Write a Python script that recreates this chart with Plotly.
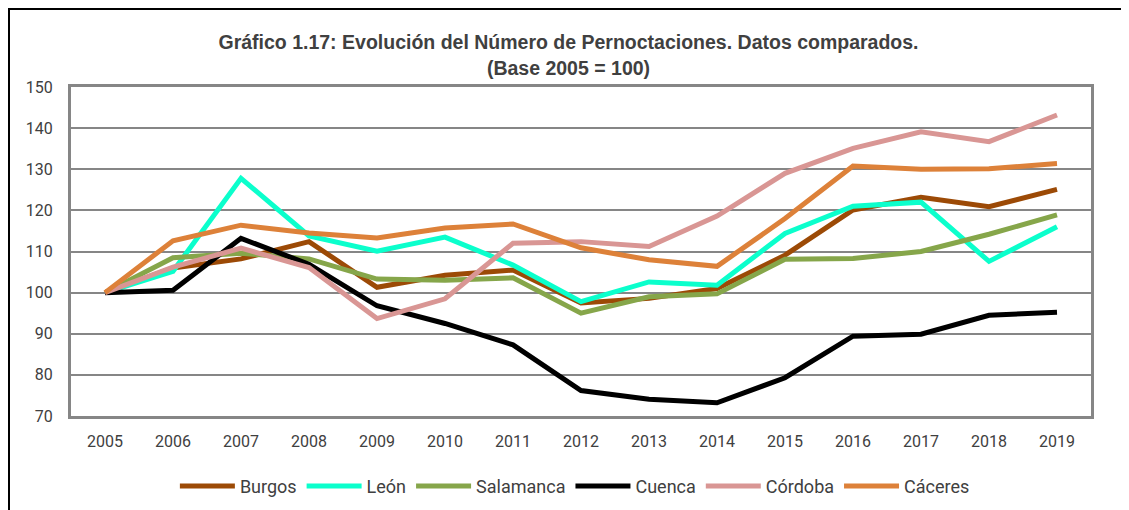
import plotly.graph_objects as go

years = [str(y) for y in range(2005, 2020)]

burgos    = [100, 106.0, 108.2, 112.4, 101.3, 104.2, 105.5, 97.5, 98.6, 101.0, 109.1, 120.1, 123.2, 120.9, 125.1]
leon      = [100, 105.2, 127.8, 113.8, 110.1, 113.5, 106.7, 97.8, 102.6, 101.8, 114.4, 121.0, 122.0, 107.6, 116.0]
salamanca = [100, 108.5, 109.6, 108.2, 103.3, 103.0, 103.6, 95.0, 99.0, 99.7, 108.1, 108.3, 110.0, 114.2, 118.9]
cuenca    = [100, 100.6, 113.2, 106.9, 96.8, 92.5, 87.3, 76.2, 74.1, 73.2, 79.3, 89.4, 89.9, 94.5, 95.2]
cordoba   = [100, 106.2, 110.8, 106.1, 93.7, 98.5, 112.0, 112.4, 111.2, 118.6, 129.0, 135.1, 139.1, 136.7, 143.2]
caceres   = [100, 112.6, 116.4, 114.5, 113.3, 115.7, 116.7, 110.9, 108.0, 106.4, 118.0, 130.8, 130.0, 130.1, 131.4]

series = [
    ("Burgos", burgos, "#9C4A06"),
    ("León", leon, "#0BFFCC"),
    ("Salamanca", salamanca, "#86A64A"),
    ("Cuenca", cuenca, "#000000"),
    ("Córdoba", cordoba, "#D99694"),
    ("Cáceres", caceres, "#DD8139"),
]

y_ticks = [70, 80, 90, 100, 110, 120, 130, 140, 150]

fig = go.Figure()
for name, vals, col in series:
    fig.add_trace(go.Scatter(x=years, y=vals, mode="lines", name=name,
                             line=dict(color=col, width=5)))

font_txt = "Roboto, Liberation Sans, Arial, sans-serif"

W, H = 1121, 502
fig.update_layout(
    width=W, height=H,
    margin=dict(l=63, r=38, t=79, b=94, autoexpand=False),
    paper_bgcolor="white", plot_bgcolor="white",
    title=dict(
        text="<b>Gráfico 1.17: Evolución del Número de Pernoctaciones. Datos comparados.<br>(Base 2005 = 100)</b>",
        x=0.5, xanchor="center", y=0.918, yanchor="top",
        font=dict(family="Liberation Sans, Arial, sans-serif", size=19.5, color="#404040"),
    ),
    xaxis=dict(
        type="category", range=[-0.5, 14.5],
        showgrid=False, showline=True, linecolor="#868686", linewidth=3, mirror=True,
        ticks="outside", ticklen=9, tickcolor="rgba(0,0,0,0)",
        tickfont=dict(family=font_txt, size=16, color="#404040"),
        fixedrange=True,
    ),
    yaxis=dict(
        range=[70, 150], tickvals=y_ticks,
        showgrid=True, gridcolor="#868686", gridwidth=2,
        showline=True, linecolor="#868686", linewidth=3, mirror=True,
        ticks="outside", ticklen=12, tickcolor="rgba(0,0,0,0)",
        tickfont=dict(family=font_txt, size=16, color="#404040"),
        zeroline=False, fixedrange=True,
    ),
    legend=dict(
        orientation="h", x=0.494, xanchor="center",
        yref="container", y=0.084, yanchor="top",
        font=dict(family=font_txt, size=18, color="#404040"),
        itemwidth=55, tracegroupgap=0,
    ),
    showlegend=True,
    shapes=[dict(type="rect", xref="paper", yref="paper",
                 x0=(1 - 63) / 1020, x1=1.2, y0=-0.6, y1=(408 - 1) / 329,
                 line=dict(color="black", width=2), fillcolor="rgba(0,0,0,0)",
                 layer="below")],
)

fig.write_html("out.html")
